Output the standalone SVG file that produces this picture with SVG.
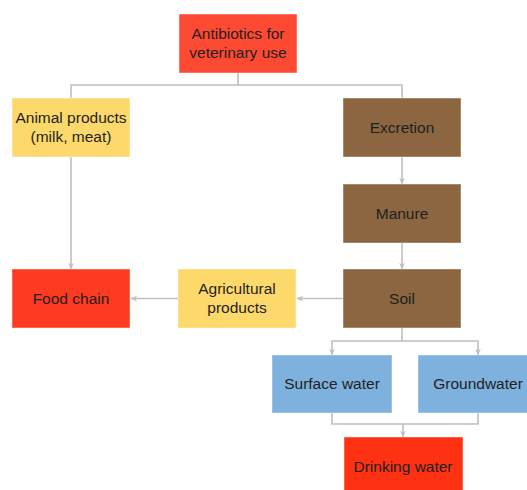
<svg xmlns="http://www.w3.org/2000/svg" width="527" height="490" viewBox="0 0 527 490">
<style>
.box{stroke:#ffffff;stroke-opacity:0.45;stroke-width:1}
.red{fill:#fe4a32}
.red2{fill:#fe3b20}
.red3{fill:#fe3212}
.yel{fill:#fdd86b}
.brn{fill:#8b6641}
.blu{fill:#7eb1dd}
text{font-family:"Liberation Sans",Arial,sans-serif;font-size:15.5px;fill:#1f1f1f;text-anchor:middle}
.conn{fill:none;stroke:#bfbfbf;stroke-width:1.6}
</style>
<defs>
<marker id="arr" viewBox="0 0 10 10" refX="9" refY="5" markerWidth="7" markerHeight="7" orient="auto" markerUnits="userSpaceOnUse">
<path d="M0,1 L10,5 L0,9 L3,5 Z" fill="#bfbfbf"/>
</marker>
</defs>
<rect width="527" height="490" fill="#ffffff"/>
<g id="connectors">
<path class="conn" d="M238,73 V85 H71 V98"/>
<path class="conn" d="M238,85 H402 V98"/>
<path class="conn" d="M71,157 V269" marker-end="url(#arr)"/>
<path class="conn" d="M402,157 V184" marker-end="url(#arr)"/>
<path class="conn" d="M402,243 V269" marker-end="url(#arr)"/>
<path class="conn" d="M343,298.5 H297" marker-end="url(#arr)"/>
<path class="conn" d="M178,298.5 H131" marker-end="url(#arr)"/>
<path class="conn" d="M402,328 V341 H332 V355" marker-end="url(#arr)"/>
<path class="conn" d="M402,341 H478 V355" marker-end="url(#arr)"/>
<path class="conn" d="M332,413 V424 H478 V413"/>
<path class="conn" d="M403,424 V437" marker-end="url(#arr)"/>
</g>
<g id="antibiotics">
<rect class="box red" x="179" y="14" width="118" height="59"/>
<text x="238" y="39">Antibiotics for</text>
<text x="238" y="58">veterinary use</text>
</g>
<g id="animal-products">
<rect class="box yel" x="12" y="98" width="118" height="59"/>
<text x="71" y="123">Animal products</text>
<text x="71" y="142">(milk, meat)</text>
</g>
<g id="excretion">
<rect class="box brn" x="343" y="98" width="118" height="59"/>
<text x="402" y="133">Excretion</text>
</g>
<g id="manure">
<rect class="box brn" x="343" y="184" width="118" height="59"/>
<text x="402" y="219">Manure</text>
</g>
<g id="soil">
<rect class="box brn" x="343" y="269" width="118" height="59"/>
<text x="402" y="304">Soil</text>
</g>
<g id="agricultural-products">
<rect class="box yel" x="178" y="269" width="118" height="59"/>
<text x="237" y="294">Agricultural</text>
<text x="237" y="313">products</text>
</g>
<g id="food-chain">
<rect class="box red2" x="12" y="269" width="118" height="59"/>
<text x="71" y="304">Food chain</text>
</g>
<g id="surface-water">
<rect class="box blu" x="272" y="355" width="120" height="58"/>
<text x="332" y="389">Surface water</text>
</g>
<g id="groundwater">
<rect class="box blu" x="418" y="355" width="120" height="58"/>
<text x="478" y="389">Groundwater</text>
</g>
<g id="drinking-water">
<rect class="box red3" x="344" y="437" width="119" height="58"/>
<text x="403" y="472">Drinking water</text>
</g>
</svg>
